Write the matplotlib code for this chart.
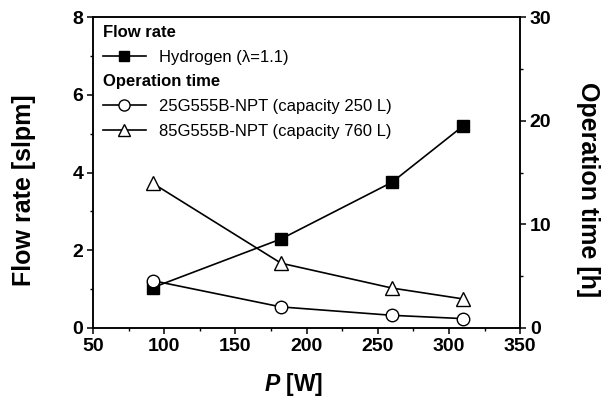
import matplotlib.pyplot as plt
from matplotlib.lines import Line2D

plt.rcParams['font.family'] = ['Liberation Sans', 'DejaVu Sans']
plt.rcParams['mathtext.fontset'] = 'custom'
plt.rcParams['mathtext.bfit'] = 'Liberation Sans:bold:italic'

# data
power = [92, 182, 260, 310]                       # W
h2_flow = [1.04, 2.29, 3.75, 5.2]                  # slpm
time_250 = [4.56, 2.03, 1.22, 0.9]                 # h
time_760 = [13.95, 6.25, 3.85, 2.8]                # h

fig = plt.figure(figsize=(6.09, 3.98), dpi=100)
ax = fig.add_axes([0.153, 0.176, 0.701, 0.781])
ax2 = ax.twinx()

ax.plot(power, h2_flow, color='black', lw=1.2, marker='s', ms=8.5,
        mfc='black', mec='black', zorder=3)
ax2.plot(power, time_250, color='black', lw=1.2, marker='o', ms=9,
         mfc='white', mec='black', mew=1.0, zorder=3)
ax2.plot(power, time_760, color='black', lw=1.2, marker='^', ms=10.5,
         mfc='white', mec='black', mew=1.0, zorder=3)

ax.set_xlim(50, 350)
ax.set_ylim(0, 8)
ax2.set_ylim(0, 30)
ax.set_xticks(range(50, 351, 50))
ax.set_xticks(range(75, 350, 50), minor=True)
ax.set_yticks([0, 2, 4, 6, 8])
ax.set_yticks([1, 3, 5, 7], minor=True)
ax2.set_yticks([0, 10, 20, 30])
ax2.set_yticks([5, 15, 25], minor=True)

for a in (ax, ax2):
    a.tick_params(which='major', direction='out', length=4, width=1.1,
                  labelsize=14, pad=3)
    a.tick_params(which='minor', direction='out', length=2.5, width=1.0)
    for s in a.spines.values():
        s.set_linewidth(1.1)
    for lbl in a.get_xticklabels() + a.get_yticklabels():
        lbl.set_fontweight('bold')

ax.set_xlabel(r'$\mathbfit{P}$ [W]', fontsize=16.5, fontweight='bold', va='center')
ax.xaxis.set_label_coords(0.47, -0.183)
ax.set_ylabel('Flow rate [slpm]', fontsize=18, fontweight='bold', va='center')
ax.yaxis.set_label_coords(-0.163, 0.444)
ax2.set_ylabel('Operation time [h]', fontsize=18, fontweight='bold',
               rotation=270, va='center')
ax2.yaxis.set_label_coords(1.16, 0.444)

blank = Line2D([], [], linestyle='none')
h_h2 = Line2D([], [], color='black', lw=1.2, marker='s', ms=7, mfc='black')
h_250 = Line2D([], [], color='black', lw=1.2, marker='o', ms=8, mfc='white')
h_760 = Line2D([], [], color='black', lw=1.2, marker='^', ms=9, mfc='white')
handles = [blank, h_h2, blank, h_250, h_760]
labels = ['Flow rate', 'Hydrogen (\u03bb=1.1)', 'Operation time',
          '25G555B-NPT (capacity 250 L)', '85G555B-NPT (capacity 760 L)']
leg = ax2.legend(handles, labels, loc='upper left', frameon=False,
                 fontsize=12, handlelength=2.6, handletextpad=0.8,
                 borderpad=0, borderaxespad=0, labelspacing=0.58,
                 bbox_to_anchor=(0.022, 0.975))
for i in (0, 2):
    t = leg.get_texts()[i]
    t.set_fontweight('bold')
    t.set_position((-56, 0))

fig.savefig('out.png', dpi=100)
